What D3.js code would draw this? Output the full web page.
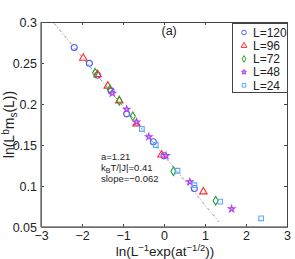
<!DOCTYPE html>
<html>
<head>
<meta charset="utf-8">
<script src="https://cdn.jsdelivr.net/npm/d3@7"></script>
<style>
  body { margin: 0; background: #fff; }
  text { font-family: "Liberation Sans", Arial, sans-serif; fill: #222; }
</style>
</head>
<body>
<div id="chart"></div>
<script>
// series values
var seriesNames = ["L=120", "L=96", "L=72", "L=48", "L=24"];

var xL120 = [-2.19, -1.82, -1.62, -1.29, -0.91, -0.26, 0.0, 0.74];
var yL120 = [0.269, 0.2496, 0.235, 0.216, 0.188, 0.154, 0.137, 0.097];

var xL96 = [-1.97, -1.62, -1.37, -1.09, -0.67, -0.06, 0.96];
var yL96 = [0.256, 0.236, 0.222, 0.204, 0.176, 0.138, 0.093];

var xL72 = [-1.68, -1.32, -1.09, -0.76, 0.23, 1.26];
var yL72 = [0.238, 0.218, 0.204, 0.185, 0.118, 0.082];

var xL48 = [-1.26, -0.91, -0.67, -0.37, 0.05, 0.63, 1.65];
var yL48 = [0.213, 0.1935, 0.178, 0.160, 0.137, 0.105, 0.072];

var xL24 = [-0.54, -0.20, 0.33, 0.74, 1.37, 2.37];
var yL24 = [0.1695, 0.150, 0.1186, 0.101, 0.081, 0.0606];

// fitted dashed line
var fitX = [-2.68, 1.34];
var fitSlope = -0.0602;
var fitIntercept = 0.137;

var xTicks = [-3, -2, -1, 0, 1, 2, 3];
var yTicks = [0.05, 0.1, 0.15, 0.2, 0.25, 0.3];

var width = 295, height = 259;
// plot box edges (note: "top" is reserved on window, so prefix them)
var plotLeft = 41, plotRight = 287, plotTop = 22, plotBottom = 227;

var svg = d3.select("#chart").append("svg")
  .attr("width", width)
  .attr("height", height);

var x = d3.scaleLinear().domain([-3, 3]).range([plotLeft, plotRight]);
var y = d3.scaleLinear().domain([0.05, 0.3]).range([plotBottom, plotTop]);

//axes, ticks pointing inward like matlab
var axisColor = "#444";
function styleAxis(g) {
  g.select(".domain").attr("stroke", axisColor).attr("stroke-width", 1);
  g.selectAll(".tick line").attr("stroke", axisColor);
  g.selectAll(".tick text")
    .style("font-size", "12.5px")
    .attr("fill", "#222");
}

var fmtX = function(d) { return d < 0 ? "\u2212" + Math.abs(d) : d; };
var fmtY = function(d) { return String(+d.toFixed(2)); };

svg.append("g")
  .attr("transform", "translate(0," + plotBottom + ")")
  .call(d3.axisBottom(x).tickValues(xTicks).tickFormat(fmtX).tickSizeInner(-3).tickSizeOuter(0).tickPadding(4))
  .call(styleAxis);

svg.append("g")
  .attr("transform", "translate(0," + plotTop + ")")
  .call(d3.axisTop(x).tickValues(xTicks).tickFormat("").tickSizeInner(-3).tickSizeOuter(0))
  .call(styleAxis);

svg.append("g")
  .attr("transform", "translate(" + plotLeft + ",0)")
  .call(d3.axisLeft(y).tickValues(yTicks).tickFormat(fmtY).tickSizeInner(-3).tickSizeOuter(0).tickPadding(4))
  .call(styleAxis);

svg.append("g")
  .attr("transform", "translate(" + plotRight + ",0)")
  .call(d3.axisRight(y).tickValues(yTicks).tickFormat("").tickSizeInner(-3).tickSizeOuter(0))
  .call(styleAxis);

// bottom and left axis look a bit heavier
svg.append("line")
  .attr("x1", plotLeft).attr("x2", plotRight)
  .attr("y1", plotBottom).attr("y2", plotBottom)
  .attr("stroke", "#777").attr("stroke-width", 1.5);
svg.append("line")
  .attr("x1", plotLeft).attr("x2", plotLeft)
  .attr("y1", plotTop).attr("y2", plotBottom)
  .attr("stroke", "#777").attr("stroke-width", 1.5);

// dash-dot fit line
svg.append("line")
  .attr("x1", x(fitX[0])).attr("y1", y(fitIntercept + fitSlope * fitX[0]))
  .attr("x2", x(fitX[1])).attr("y2", y(fitIntercept + fitSlope * fitX[1]))
  .attr("stroke", "#888")
  .attr("stroke-width", 0.9)
  .attr("stroke-dasharray", "3,2,1,2");

// markers
var series = [
  { name: seriesNames[0], xs: xL120, ys: yL120, sym: d3.symbolCircle, size: 28, color: "#4a5cff", fill: "none" },
  { name: seriesNames[1], xs: xL96, ys: yL96, sym: d3.symbolTriangle, size: 24, color: "#ff2a2a", fill: "none" },
  { name: seriesNames[2], xs: xL72, ys: yL72, sym: d3.symbolDiamond, size: 22, color: "#2aa52a", fill: "none" },
  { name: seriesNames[3], xs: xL48, ys: yL48, sym: d3.symbolStar, size: 13, color: "#b040f0", fill: "#d9a6f7" },
  { name: seriesNames[4], xs: xL24, ys: yL24, sym: d3.symbolSquare, size: 22, color: "#5aaaff", fill: "none" }
];

series.forEach(function(s) {
  var pts = s.xs.map(function(v, i) { return [v, s.ys[i]]; });
  svg.append("g").selectAll("path")
    .data(pts)
    .enter()
    .append("path")
    .attr("d", d3.symbol().type(s.sym).size(s.size))
    .attr("transform", function(d) { return "translate(" + x(d[0]) + "," + y(d[1]) + ")"; })
    .attr("fill", s.fill)
    .attr("stroke", s.color)
    .attr("stroke-width", 1.1);
});

// legend box
var legend = svg.append("g").attr("class", "legend");
legend.append("rect")
  .attr("x", 232.5).attr("y", 23.5)
  .attr("width", 55).attr("height", 69)
  .attr("fill", "#fff")
  .attr("stroke", "#444")
  .attr("stroke-width", 1);

series.forEach(function(s, i) {
  var ly = 32.5 + i * 13.2;
  legend.append("path")
    .attr("d", d3.symbol().type(s.sym).size(s.size * 0.6))
    .attr("transform", "translate(244," + ly + ")")
    .attr("fill", s.fill)
    .attr("stroke", s.color)
    .attr("stroke-width", 1);
  legend.append("text")
    .attr("x", 253)
    .attr("y", ly + 4.3)
    .style("font-size", "12px")
    .text(s.name);
});

// panel label
svg.append("text")
  .attr("x", 161.5).attr("y", 34.5)
  .style("font-size", "12.5px")
  .text("(a)");

// annotation
var note = svg.append("g").style("font-size", "9.5px");
note.append("text").attr("x", 101).attr("y", 160).text("a=1.21");
var kt = note.append("text").attr("x", 101).attr("y", 170.5);
kt.append("tspan").text("k");
kt.append("tspan").attr("dy", 2.5).style("font-size", "7px").text("B");
kt.append("tspan").attr("dy", -2.5).text("T/|J|=0.41");
note.append("text").attr("x", 101).attr("y", 181.5).text("slope=\u22120.062");

// x label
var xl = svg.append("text")
  .attr("x", (plotLeft + plotRight) / 2 + 1)
  .attr("y", 256)
  .attr("text-anchor", "middle")
  .style("font-size", "13.5px");
xl.append("tspan").text("ln(L");
xl.append("tspan").attr("dy", -5).style("font-size", "9.5px").text("\u22121");
xl.append("tspan").attr("dy", 5).text("exp(at");
xl.append("tspan").attr("dy", -5).style("font-size", "9.5px").text("\u22121/2");
xl.append("tspan").attr("dy", 5).text("))");

// y label
var yl = svg.append("text")
  .attr("transform", "translate(14," + ((plotTop + plotBottom) / 2) + ")rotate(-90)")
  .attr("text-anchor", "middle")
  .style("font-size", "14px");
yl.append("tspan").text("ln(L");
yl.append("tspan").attr("dy", -5).style("font-size", "10px").text("b");
yl.append("tspan").attr("dy", 5).text("m");
yl.append("tspan").attr("dy", 3).style("font-size", "10px").text("s");
yl.append("tspan").attr("dy", -3).text("(L))");
</script>
</body>
</html>
